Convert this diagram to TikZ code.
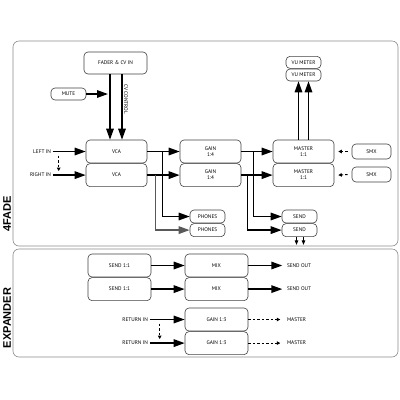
\documentclass[tikz,border=0pt]{standalone}
\usepackage{fontspec}
\setmainfont{PT Sans}
\newfontfamily\titlefont{Liberation Sans}
\usetikzlibrary{positioning,arrows.meta}

\begin{document}
\begin{tikzpicture}[
  x=1pt,y=-1pt,
  blk/.style={
    draw=black!75, line width=0.6pt, rounded corners=4pt,
    minimum width=#1, minimum height=23pt, inner sep=0pt,
    align=center, font=\fontsize{5.3}{6}\selectfont
    },
  sblk/.style={blk=35pt, minimum height=12pt},
  lbl/.style={font=\fontsize{5.3}{6}\selectfont, inner sep=1.5pt},
  arr/.style={line width=1.5pt, -{Triangle[length=11pt,width=7.5pt]}},
  dsh/.style={line width=1pt, dash pattern=on 2.5pt off 2pt,
    -{Triangle[length=3.5pt,width=3.5pt]}},
  tipdown/.style={line width=0.8pt, -{Triangle[length=4.5pt,width=3.5pt]}},
  panel/.style={draw=black!45, line width=0.6pt, rounded corners=6pt},
  ttl/.style={font=\titlefont\bfseries\fontsize{11}{12}\selectfont, rotate=90}
  ]
  \useasboundingbox (0,0) rectangle (400,400);

  \draw[panel] (13,41) rectangle (398,246);
  \draw[panel] (13,249) rectangle (398,357);
  \node[ttl] (t1) at (7,214) {4FADE};
  \node[ttl] (t2) at (7,318) {EXPANDER};

  % 4fade
  \node[blk=63pt, minimum height=22pt] (fader) at (115.5,63) {FADER \& CV IN};
  \node[sblk] (mute) at (68.5,94) {MUTE};
  \node[lbl, rotate=-90] (cv) at (126,99) {CV CONTROL};
  \node[blk=61pt] (vcaL) at (116.5,151.5) {VCA};
  \node[blk=61pt, below=0pt of vcaL] (vcaR) {VCA};
  \node[blk=61pt] (gainL) at (210.5,151.5) {GAIN\\1:4};
  \node[blk=61pt, below=0pt of gainL] (gainR) {GAIN\\1:4};
  \node[blk=61pt] (mastL) at (303.5,151.5) {MASTER\\1:1};
  \node[blk=61pt, below=0pt of mastL] (mastR) {MASTER\\1:1};
  \node[sblk] (vuB) at (303.5,75) {VU METER};
  \node[sblk, above=0pt of vuB] (vuA) {VU METER};
  \node[blk=39pt, minimum height=15pt] (smxL) at (371.5,151.5) {SMX};
  \node[blk=39pt, minimum height=15pt] (smxR) at (371.5,174.5) {SMX};
  \node[sblk, minimum height=13pt] (phL) at (207.5,216.5) {PHONES};
  \node[sblk, minimum height=13pt, below=0pt of phL] (phR) {PHONES};
  \node[sblk, minimum height=13pt] (sendL) at (299.5,216.5) {SEND};
  \node[sblk, minimum height=13pt, below=0pt of sendL] (sendR) {SEND};
  \node[lbl, left=33pt of vcaL] (inL) {LEFT IN};
  \node[lbl, left=33pt of vcaR] (inR) {RIGHT IN};

  \draw[arr] ([xshift=-5.5pt]fader.south) -- ([xshift=-5.5pt]fader.south |- vcaL.north);
  \draw[arr] ([xshift=6.5pt]fader.south) -- ([xshift=6.5pt]fader.south |- vcaL.north);
  \draw[arr] (mute.east) -- ([xshift=-7.5pt]fader.south |- mute.east);
  \draw[arr] (inL) -- (vcaL);
  \draw[arr] (inR) -- (vcaR);
  \draw[dsh] ([xshift=6pt,yshift=-4pt]inL.east) -- ([xshift=6pt,yshift=4pt]inR.east);
  \draw[arr] (vcaL) -- (gainL);
  \draw[arr] (vcaR) -- (gainR);
  \draw[arr] ([xshift=15pt]vcaL.east) |- (phL);
  \draw[arr, black!65] ([xshift=8pt]vcaR.east) |- (phR);
  \draw[arr] (gainL) -- (mastL);
  \draw[arr] (gainR) -- (mastR);
  \draw[arr] ([xshift=12pt]gainL.east) |- (sendL);
  \draw[arr] ([xshift=6pt]gainR.east) |- (sendR);
  \draw[arr] ([xshift=-5pt]mastL.north) -- ([xshift=-5pt]vuB.south);
  \draw[arr] ([xshift=5pt]mastL.north) -- ([xshift=5pt]vuB.south);
  \draw[dsh] ([xshift=-4pt]smxL.west) -- ([xshift=4pt]mastL.east);
  \draw[dsh] ([xshift=-4pt]smxR.west) -- ([xshift=4pt]mastR.east);
  \draw[tipdown] ([xshift=-3pt]sendR.south) -- ++(0,8);
  \draw[tipdown] ([xshift=4pt]sendR.south) -- ++(0,8);

  % expander
  \node[blk=63pt] (sndA) at (119.5,265.5) {SEND 1:1};
  \node[blk=63pt, below=0pt of sndA] (sndB) {SEND 1:1};
  \node[blk=63pt] (mixA) at (216.5,265.5) {MIX};
  \node[blk=63pt, below=0pt of mixA] (mixB) {MIX};
  \node[blk=63pt] (retgA) at (216.5,319.5) {GAIN 1:3};
  \node[blk=63pt, below=0pt of retgA] (retgB) {GAIN 1:3};
  \node[lbl, right=37pt of mixA] (outA) {SEND OUT};
  \node[lbl, right=37pt of mixB] (outB) {SEND OUT};
  \node[lbl, left=35pt of retgA] (retA) {RETURN IN};
  \node[lbl, left=35pt of retgB] (retB) {RETURN IN};
  \node[lbl, right=37pt of retgA] (mstA) {MASTER};
  \node[lbl, right=37pt of retgB] (mstB) {MASTER};

  \draw[arr] (sndA) -- (mixA);
  \draw[arr] (sndB) -- (mixB);
  \draw[arr] (mixA) -- ([xshift=-3pt]outA.west);
  \draw[arr] (mixB) -- ([xshift=-3pt]outB.west);
  \draw[arr] (retA) -- (retgA);
  \draw[arr] (retB) -- (retgB);
  \draw[dsh] ([xshift=10pt,yshift=-4pt]retA.east) -- ([xshift=10pt,yshift=4pt]retB.east);
  \draw[dsh] (retgA) -- ([xshift=-5pt]mstA.west);
  \draw[dsh] (retgB) -- ([xshift=-5pt]mstB.west);
\end{tikzpicture}
\end{document}
